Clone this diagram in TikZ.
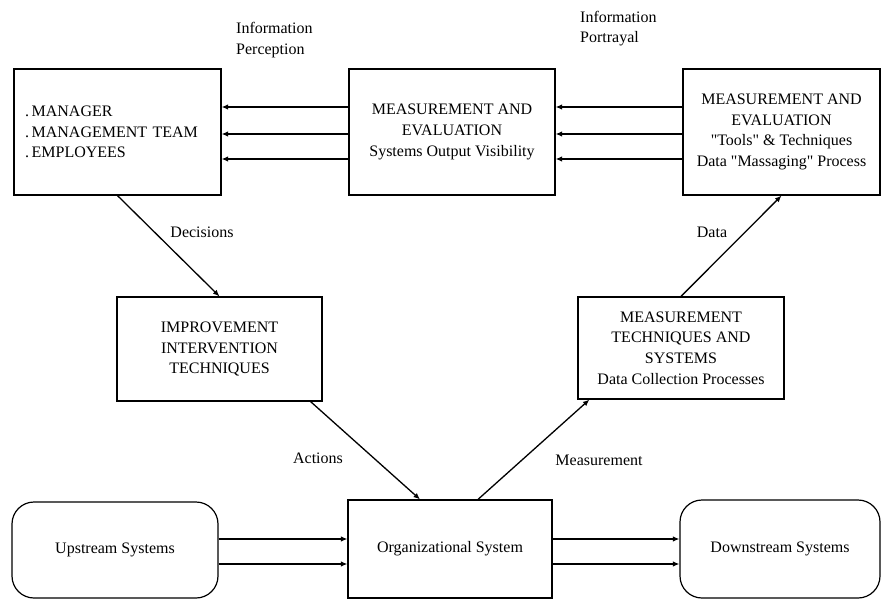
\documentclass[tikz,border=0pt]{standalone}
\usepackage{fontspec}
\setmainfont{Liberation Serif}[Ligatures=TeXOff]
\usetikzlibrary{arrows.meta}
\begin{document}
\begin{tikzpicture}[x=1pt,y=-1pt,
  every node/.style={font=\fontsize{16}{20.8}\selectfont, inner sep=0pt},
  box/.style={draw, line width=1.2pt, align=center, minimum width=#1},
  rbox/.style={draw, line width=1.2pt, rounded corners=22pt, align=center},
  lbl/.style={align=left},
  flow/.style={line width=1.3pt, -{Latex[length=6.5pt,width=5.5pt]}}]
\useasboundingbox (0,0) rectangle (881,600);

% top row
\node[box=207pt, minimum height=126pt, align=left, text width=185pt] (mgr) at (117.5,132)
  {.\,MANAGER\\.\,MANAGEMENT TEAM\\.\,EMPLOYEES};
\node[box=206pt, minimum height=126pt] (vis) at (452,132)
  {MEASUREMENT AND\\EVALUATION\\Systems Output Visibility};
\node[box=197pt, minimum height=126pt] (tools) at (781.5,132)
  {MEASUREMENT AND\\EVALUATION\\"Tools" \& Techniques\\Data "Massaging" Process};

% middle row
\node[box=205pt, minimum height=104pt] (imp) at (219.5,349)
  {IMPROVEMENT\\INTERVENTION\\TECHNIQUES};
\node[box=206pt, minimum height=102pt] (tech) at (681,348)
  {MEASUREMENT\\TECHNIQUES AND\\SYSTEMS\\Data Collection Processes};

% bottom row
\node[box=204pt, minimum height=98pt] (org) at (450,549) {Organizational System};
\node[rbox, minimum width=206pt, minimum height=96pt] (up) at (115,550) {Upstream Systems};
\node[rbox, minimum width=200pt, minimum height=98pt] (down) at (780,549) {Downstream Systems};

% information flow between the top boxes
\foreach \yy in {107,134,159} {
  \draw[flow] (vis.west |- 0,\yy) -- (mgr.east |- 0,\yy);
  \draw[flow] (tools.west |- 0,\yy) -- (vis.east |- 0,\yy);
}

% upstream -> organization -> downstream
\foreach \yy in {539,564} {
  \draw[flow] (up.east |- 0,\yy) -- (org.west |- 0,\yy);
  \draw[flow] (org.east |- 0,\yy) -- (down.west |- 0,\yy);
}

% feedback loop
\draw[flow] (mgr.south) -- (imp.north);
\draw[flow] ([xshift=-12pt]imp.south east) -- ([xshift=-30pt]org.north);
\draw[flow] ([xshift=28pt]org.north) -- ([xshift=12pt]tech.south west);
\draw[flow] (tech.north) -- (tools.south);

% labels
\node[lbl, anchor=west] (perc) at (236,40) {Information\\Perception};
\node[lbl, anchor=west] (portr) at (580,28.5) {Information\\Portrayal};
\node (dec) at (202,232) {Decisions};
\node (act) at (318,458) {Actions};
\node (meas) at (599,460) {Measurement};
\node (data) at (712,232) {Data};
\end{tikzpicture}
\end{document}
